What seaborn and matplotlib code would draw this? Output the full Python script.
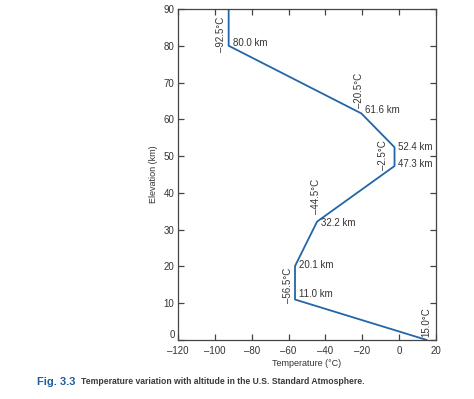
"""Temperature vs altitude in the U.S. Standard Atmosphere (Fig. 3.3)."""

import matplotlib

matplotlib.use("Agg")
import matplotlib.pyplot as plt
import pandas as pd
import seaborn as sns

# profile break points
temperature_c = [15.0, -56.5, -56.5, -44.5, -2.5, -2.5, -20.5, -92.5, -92.5]
altitude_km = [0.0, 11.0, 20.1, 32.2, 47.3, 52.4, 61.6, 80.0, 90.0]

# which break points get an altitude label / a temperature label
km_label_idx = [1, 2, 3, 4, 5, 6, 7]
temp_label_idx = [0, 1, 3, 4, 6, 7]

x_ticks = [-120, -100, -80, -60, -40, -20, 0, 20]
y_ticks = [0, 10, 20, 30, 40, 50, 60, 70, 80, 90]

x_title = "Temperature (°C)"
y_title = "Elevation (km)"
fig_tag = "Fig. 3.3"
caption = "Temperature variation with altitude in the U.S. Standard Atmosphere."

LINE = "#2166a8"
INK = "#333333"
PX = 0.72  # pixels -> points at dpi 100

# label offsets in pixels (dx, dy), keyed by break point index
km_offsets = {1: (4, 6), 2: (4, 1), 3: (4, -1.5), 4: (3, 2), 5: (3, 0), 6: (4, 3), 7: (4, 3)}
temp_offsets = {0: (0, 18), 1: (-7, 14.5), 3: (-1, 25), 4: (-12, 11), 6: (-2, 23), 7: (-8, 11)}


def fmt_temp(value: float) -> str:
    text = f"{abs(value):.1f}°C"
    return ("\u2013" + text) if value < 0 else text


def main() -> None:
    sns.set_style("ticks")
    plt.rcParams["font.family"] = ["Liberation Sans", "DejaVu Sans"]

    df = pd.DataFrame({"temp": temperature_c, "alt": altitude_km})

    fig = plt.figure(figsize=(4.74, 3.99), dpi=100)
    ax = fig.add_axes([0.3755, 0.1479, 0.5443, 0.8296])

    sns.lineplot(data=df, x="temp", y="alt", sort=False, estimator=None,
                 color=LINE, linewidth=1.3, ax=ax)

    for i in km_label_idx:
        dx, dy = km_offsets[i]
        ax.annotate(f"{altitude_km[i]:.1f} km", (temperature_c[i], altitude_km[i]),
                    xytext=(dx * PX, dy * PX), textcoords="offset points",
                    ha="left", va="center", fontsize=7, color=INK)

    for i in temp_label_idx:
        dx, dy = temp_offsets[i]
        ax.annotate(fmt_temp(temperature_c[i]), (temperature_c[i], altitude_km[i]),
                    xytext=(dx * PX, dy * PX), textcoords="offset points",
                    ha="center", va="center", rotation=90, fontsize=7, color=INK)

    ax.set_xlim(-120, 20)
    ax.set_ylim(0, 90)
    ax.set_xticks(x_ticks)
    ax.set_yticks(y_ticks)
    ax.set_xticklabels([f"\u2013{abs(t)}" if t < 0 else str(t) for t in x_ticks])
    ax.tick_params(direction="in", length=4, width=0.9, colors="#444444",
                   labelcolor=INK, labelsize=7, top=True, right=True, pad=2.5)
    ax.tick_params(axis="x", pad=4.5)
    ax.get_yticklabels()[0].set_va("bottom")
    ax.set_xlabel(x_title, fontsize=6.5, color=INK, labelpad=2)
    ax.set_ylabel(y_title, fontsize=6.5, color=INK, labelpad=4)
    for spine in ax.spines.values():
        spine.set_visible(True)
        spine.set_color("#444444")
        spine.set_linewidth(0.9)

    fig.text(37 / 474, 1 - 382 / 399, fig_tag, fontsize=8, fontweight="bold",
             color="#1d5d9e", va="center", ha="left")
    fig.text(81 / 474, 1 - 382 / 399, caption, fontsize=6.2, fontweight="bold",
             color="#3a3a3a", va="center", ha="left")

    fig.savefig("out.png", dpi=100)
    plt.close(fig)


if __name__ == "__main__":
    main()
